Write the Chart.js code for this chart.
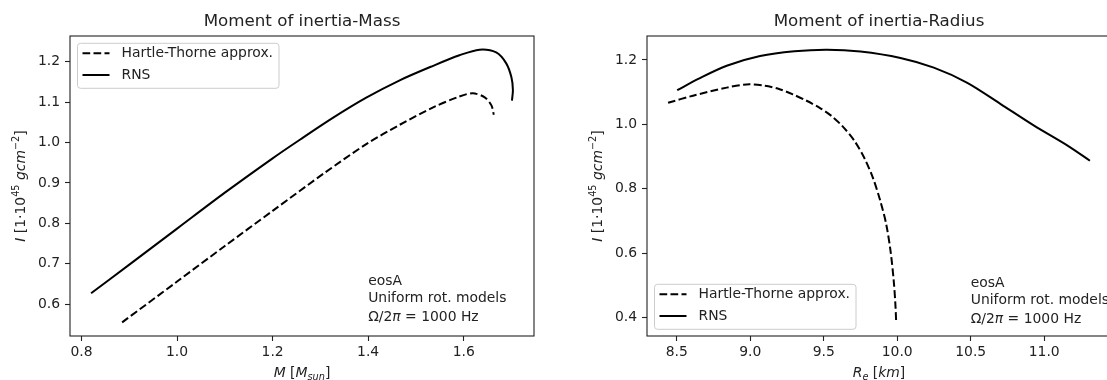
<!DOCTYPE html>
<html>
<head>
<meta charset="utf-8">
<script src="https://cdn.jsdelivr.net/npm/chart.js@4.4.1/dist/chart.umd.min.js"></script>
<style>
  html, body { margin: 0; padding: 0; background: #fff; overflow: hidden; }
  body { width: 1107px; height: 380px; position: relative; }
  canvas { position: absolute; top: 0; }
  #massChart { left: 0; }
  #radiusChart { left: 560px; }
</style>
</head>
<body>
<canvas id="massChart" width="560" height="380"></canvas>
<canvas id="radiusChart" width="560" height="380"></canvas>
<script>
// values
const seriesLabels = ['Hartle-Thorne approx.', 'RNS'];

const massHT = [0.885, 1.0, 1.1, 1.2, 1.31, 1.396, 1.466, 1.536, 1.591, 1.619, 1.644, 1.658, 1.663];
const inertiaMassHT = [0.555, 0.656, 0.744, 0.831, 0.926, 0.996, 1.044, 1.087, 1.114, 1.122, 1.112, 1.092, 1.069];
const massRNS = [0.82, 0.9, 1.0, 1.1, 1.2, 1.257, 1.326, 1.396, 1.466, 1.536, 1.591, 1.633, 1.668, 1.689, 1.70, 1.703, 1.701];
const inertiaMassRNS = [0.627, 0.698, 0.787, 0.876, 0.961, 1.007, 1.061, 1.111, 1.154, 1.19, 1.216, 1.23, 1.223, 1.196, 1.161, 1.13, 1.104];

const radiusHT = [8.441, 8.61, 8.84, 8.976, 9.1, 9.2, 9.29, 9.38, 9.47, 9.55, 9.63, 9.71, 9.78, 9.836, 9.885, 9.925, 9.955, 9.976, 9.987, 9.993];
const inertiaRadiusHT = [1.067, 1.089, 1.114, 1.124, 1.12, 1.109, 1.093, 1.074, 1.052, 1.027, 0.993, 0.948, 0.892, 0.832, 0.762, 0.690, 0.605, 0.515, 0.445, 0.385];
const radiusRNS = [8.503, 8.65, 8.84, 9.067, 9.3, 9.522, 9.75, 10.022, 10.249, 10.477, 10.704, 10.931, 11.159, 11.311];
const inertiaRadiusRNS = [1.106, 1.142, 1.182, 1.212, 1.227, 1.232, 1.226, 1.206, 1.176, 1.129, 1.063, 0.996, 0.934, 0.887];

const massTicks = [0.8, 1.0, 1.2, 1.4, 1.6];
const massYTicks = [0.6, 0.7, 0.8, 0.9, 1.0, 1.1, 1.2];
const radiusTicks = [8.5, 9.0, 9.5, 10.0, 10.5, 11.0];
const radiusYTicks = [0.4, 0.6, 0.8, 1.0, 1.2];

const noteLines = ['eosA', 'Uniform rot. models', 'Ω/2π = 1000 Hz'];

const FONT = '"DejaVu Sans", sans-serif';
const INK = '#222';
const FS = 13.9;

// matplotlib style 5% margins around data
function padRange(arrs) {
  const all = [].concat(...arrs);
  const lo = Math.min(...all), hi = Math.max(...all);
  const m = (hi - lo) * 0.05;
  return { min: lo - m, max: hi + m };
}

function drawRich(ctx, parts, x, y, opts) {
  const size = opts.size || FS;
  ctx.save();
  ctx.translate(x, y);
  if (opts.rotate) ctx.rotate(-Math.PI / 2);
  ctx.fillStyle = INK;
  ctx.textBaseline = 'alphabetic';
  ctx.textAlign = 'left';
  const fontFor = p => (p.it ? 'italic ' : '') + ((p.sup || p.sub) ? size * 0.7 : size) + 'px ' + FONT;
  const widths = parts.map(p => { ctx.font = fontFor(p); return ctx.measureText(p.t).width; });
  const total = widths.reduce((a, b) => a + b, 0);
  let cx = opts.align === 'left' ? 0 : -total / 2;
  parts.forEach((p, i) => {
    ctx.font = fontFor(p);
    let dy = size * 0.36;
    if (p.sup) dy -= size * 0.42;
    if (p.sub) dy += size * 0.22;
    ctx.fillText(p.t, cx, dy);
    cx += widths[i];
  });
  ctx.restore();
}

const yLabelParts = [
  { t: 'I', it: true }, { t: ' [1·10' }, { t: '45', sup: true }, { t: ' ' },
  { t: 'gcm', it: true }, { t: '−2', sup: true }, { t: ']' }
];

const decorPlugin = {
  id: 'decor',
  afterDatasetsDraw(chart) {
    const o = chart.options.plugins.decor;
    const ctx = chart.ctx;
    const a = chart.chartArea;
    const xs = chart.scales.x, ys = chart.scales.y;

    // frame (all four spines)
    ctx.save();
    ctx.strokeStyle = INK;
    ctx.lineWidth = 1.1;
    ctx.strokeRect(a.left, a.top, a.right - a.left, a.bottom - a.top);
    ctx.restore();

    // title
    ctx.save();
    ctx.fillStyle = INK;
    ctx.font = '16.7px ' + FONT;
    ctx.textAlign = 'center';
    ctx.textBaseline = 'middle';
    ctx.fillText(o.title, (a.left + a.right) / 2, a.top - 14);
    ctx.restore();

    // axis labels
    drawRich(ctx, o.xLabel, (a.left + a.right) / 2, a.bottom + 36, {});
    drawRich(ctx, yLabelParts, a.left - 50, (a.top + a.bottom) / 2, { rotate: true });

    // note text
    const nx = xs.getPixelForValue(o.noteX);
    const ny = ys.getPixelForValue(o.noteY);
    ctx.save();
    ctx.fillStyle = INK;
    ctx.font = FS + 'px ' + FONT;
    ctx.textBaseline = 'middle';
    ctx.fillText(noteLines[0], nx, ny);
    ctx.fillText(noteLines[1], nx, ny + 17.5);
    ctx.restore();
    drawRich(ctx, [{ t: 'Ω/2' }, { t: 'π', it: true }, { t: ' = 1000 Hz' }], nx, ny + 35, { align: 'left' });

    // legend
    const bw = 201.5, bh = 45;
    const bx = a.left + 7.5;
    const by = o.legendAt === 'top' ? a.top + 7.3 : a.bottom - 6.7 - bh;
    ctx.save();
    ctx.fillStyle = 'rgba(255,255,255,0.8)';
    ctx.strokeStyle = '#cccccc';
    ctx.lineWidth = 1;
    ctx.beginPath();
    ctx.roundRect(bx, by, bw, bh, 3);
    ctx.fill();
    ctx.stroke();
    chart.data.datasets.forEach((ds, i) => {
      const ry = by + 10 + i * 21.7;
      ctx.strokeStyle = ds.borderColor;
      ctx.lineWidth = ds.borderWidth;
      ctx.setLineDash(ds.borderDash || []);
      ctx.beginPath();
      ctx.moveTo(bx + 5, ry);
      ctx.lineTo(bx + 32, ry);
      ctx.stroke();
      ctx.setLineDash([]);
      ctx.fillStyle = INK;
      ctx.font = FS + 'px ' + FONT;
      ctx.textBaseline = 'middle';
      ctx.fillText(ds.label, bx + 44, ry);
    });
    ctx.restore();
  }
};

function makeChart(id, cfg) {
  const xr = padRange([cfg.htX, cfg.rnsX]);
  const yr = padRange([cfg.htY, cfg.rnsY]);
  const pts = (xs, ys) => xs.map((v, i) => ({ x: v, y: ys[i] }));
  const axisGrid = { display: true, drawOnChartArea: false, drawTicks: true, tickLength: 5, tickWidth: 1.1, tickColor: INK };
  return new Chart(document.getElementById(id), {
    type: 'scatter',
    data: {
      datasets: [
        { label: seriesLabels[0], data: pts(cfg.htX, cfg.htY), showLine: true, borderColor: '#000', borderWidth: 2, borderDash: [7.7, 3.3], pointRadius: 0, tension: 0.3, fill: false },
        { label: seriesLabels[1], data: pts(cfg.rnsX, cfg.rnsY), showLine: true, borderColor: '#000', borderWidth: 2, pointRadius: 0, tension: 0.3, fill: false }
      ]
    },
    options: {
      responsive: false,
      animation: false,
      events: [],
      layout: { padding: { top: 36, right: cfg.padRight, bottom: 0, left: 0 } },
      plugins: {
        legend: { display: false },
        tooltip: { enabled: false },
        decor: { title: cfg.title, xLabel: cfg.xLabel, noteX: cfg.noteX, noteY: cfg.noteY, legendAt: cfg.legendAt }
      },
      scales: {
        x: {
          type: 'linear', min: xr.min, max: xr.max,
          grid: axisGrid, border: { display: false },
          afterBuildTicks: s => { s.ticks = cfg.xTicks.map(v => ({ value: v })); },
          afterFit: s => { s.height = 44; },
          ticks: { color: INK, font: { family: FONT, size: FS }, padding: 3, maxRotation: 0, callback: v => v.toFixed(1) }
        },
        y: {
          type: 'linear', min: yr.min, max: yr.max,
          grid: axisGrid, border: { display: false },
          afterBuildTicks: s => { s.ticks = cfg.yTicks.map(v => ({ value: v })); },
          afterFit: s => { s.width = cfg.yWidth; },
          ticks: { color: INK, font: { family: FONT, size: FS }, padding: 5, callback: v => v.toFixed(1) }
        }
      }
    },
    plugins: [decorPlugin]
  });
}

makeChart('massChart', {
  htX: massHT, htY: inertiaMassHT, rnsX: massRNS, rnsY: inertiaMassRNS,
  xTicks: massTicks, yTicks: massYTicks,
  title: 'Moment of inertia-Mass',
  xLabel: [{ t: 'M', it: true }, { t: ' [' }, { t: 'M', it: true }, { t: 'sun', it: true, sub: true }, { t: ']' }],
  noteX: 1.4, noteY: 0.657, legendAt: 'top',
  yWidth: 70, padRight: 26
});

makeChart('radiusChart', {
  htX: radiusHT, htY: inertiaRadiusHT, rnsX: radiusRNS, rnsY: inertiaRadiusRNS,
  xTicks: radiusTicks, yTicks: radiusYTicks,
  title: 'Moment of inertia-Radius',
  xLabel: [{ t: 'R', it: true }, { t: 'e', it: true, sub: true }, { t: ' [' }, { t: 'km', it: true }, { t: ']' }],
  noteX: 10.5, noteY: 0.507, legendAt: 'bottom',
  yWidth: 87, padRight: 9
});
</script>
</body>
</html>
